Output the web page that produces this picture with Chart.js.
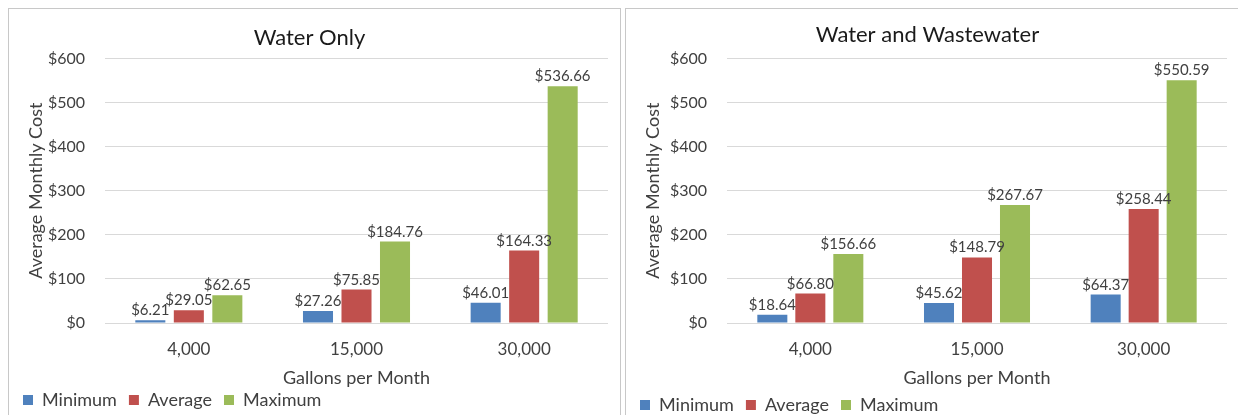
<!DOCTYPE html>
<html>
<head>
<meta charset="utf-8">
<script src="https://cdn.jsdelivr.net/npm/chart.js@4/dist/chart.umd.min.js"></script>
<style>
  html, body { margin:0; padding:0; background:#fff; width:1238px; height:415px; overflow:hidden; }
  .panel { position:absolute; border:1px solid #c8c8c8; background:#fff; box-sizing:content-box; }
  canvas { display:block; }
</style>
</head>
<body>
<div class="panel" style="left:8px; top:8px; width:611px; height:420px;"><canvas id="c1" width="611" height="410"></canvas></div>
<div class="panel" style="left:625px; top:8px; width:620px; height:420px;"><canvas id="c2" width="612" height="415"></canvas></div>
<script>
// ---- data ----
const categories = ["4,000", "15,000", "30,000"];
const seriesNames = ["Minimum", "Average", "Maximum"];
const waterOnlyMin = [6.21, 27.26, 46.01];
const waterOnlyAvg = [29.05, 75.85, 164.33];
const waterOnlyMax = [62.65, 184.76, 536.66];
const wwMin = [18.64, 45.62, 64.37];
const wwAvg = [66.80, 148.79, 258.44];
const wwMax = [156.66, 267.67, 550.59];
const yTickValues = [0, 100, 200, 300, 400, 500, 600];
const yTickLabels = ["$0", "$100", "$200", "$300", "$400", "$500", "$600"];

const colors = ["#4f81bd", "#c0504d", "#9bbb59"];
const FONT = "Lato, 'Noto Sans', sans-serif";
const TXT = "#404040";

const dataLabels = {
  id: "dataLabels",
  afterDatasetsDraw(chart) {
    const ctx = chart.ctx;
    ctx.save();
    ctx.font = "15px " + FONT;
    ctx.fillStyle = TXT;
    ctx.textAlign = "center";
    ctx.textBaseline = "alphabetic";
    chart.data.datasets.forEach((ds, i) => {
      const meta = chart.getDatasetMeta(i);
      meta.data.forEach((el, j) => {
        ctx.fillText("$" + ds.data[j].toFixed(2), el.x, el.y - 5);
      });
    });
    ctx.restore();
  }
};

function makeChart(id, title, mins, avgs, maxs, o) {
  const series = [mins, avgs, maxs];
  return new Chart(document.getElementById(id), {
    type: "bar",
    data: {
      labels: categories,
      datasets: seriesNames.map((n, i) => ({
        label: n,
        data: series[i],
        backgroundColor: colors[i],
        categoryPercentage: o.cp,
        barPercentage: o.bp
      }))
    },
    options: {
      responsive: false,
      animation: false,
      layout: { padding: { left: 2, right: o.right, top: 0, bottom: 0 } },
      plugins: {
        title: { display: true, text: title, color: "#1a1a1a",
          font: { family: FONT, size: 22, weight: "normal" },
          padding: { top: o.titleTop, bottom: o.titleBottom } },
        legend: { position: "bottom", align: "start",
          labels: { boxWidth: 10, boxHeight: 10, color: TXT, padding: 12,
            font: { family: FONT, size: 18 } } },
        tooltip: { enabled: false }
      },
      scales: {
        x: {
          afterFit(s) { s.height = o.xHeight; },
          grid: { display: false, drawTicks: false },
          border: { display: false },
          ticks: { color: TXT, font: { family: FONT, size: 17 }, padding: 16 },
          title: { display: true, text: "Gallons per Month", color: TXT,
            font: { family: FONT, size: 18 }, padding: { top: 0, bottom: o.xTitleBottom } }
        },
        y: {
          min: 0, max: 600,
          afterBuildTicks(s) { s.ticks = yTickValues.map(v => ({ value: v })); },
          afterFit(s) { s.width = o.yWidth; },
          grid: { color: "#d9d9d9", drawTicks: false },
          border: { display: false },
          ticks: { color: TXT, font: { family: FONT, size: 16 }, padding: o.yPad,
            callback: (v) => yTickLabels[yTickValues.indexOf(v)] },
          title: { display: true, text: "Average Monthly Cost", color: TXT,
            font: { family: FONT, size: 18 }, padding: { top: o.yTitleTop, bottom: 0 } }
        }
      }
    },
    plugins: [dataLabels]
  });
}

makeChart("c1", "Water Only", waterOnlyMin, waterOnlyAvg, waterOnlyMax,
  { right: 12, yWidth: 94, titleTop: 16, titleBottom: 7, cp: 0.689, bp: 0.78,
    xHeight: 56, xTitleBottom: -10, yPad: 20, yTitleTop: 14 });
makeChart("c2", "Water and Wastewater", wwMin, wwAvg, wwMax,
  { right: 11, yWidth: 99, titleTop: 13, titleBottom: 10, cp: 0.684, bp: 0.79,
    xHeight: 61, xTitleBottom: -5, yPad: 20, yTitleTop: 14 });
</script>
</body>
</html>
